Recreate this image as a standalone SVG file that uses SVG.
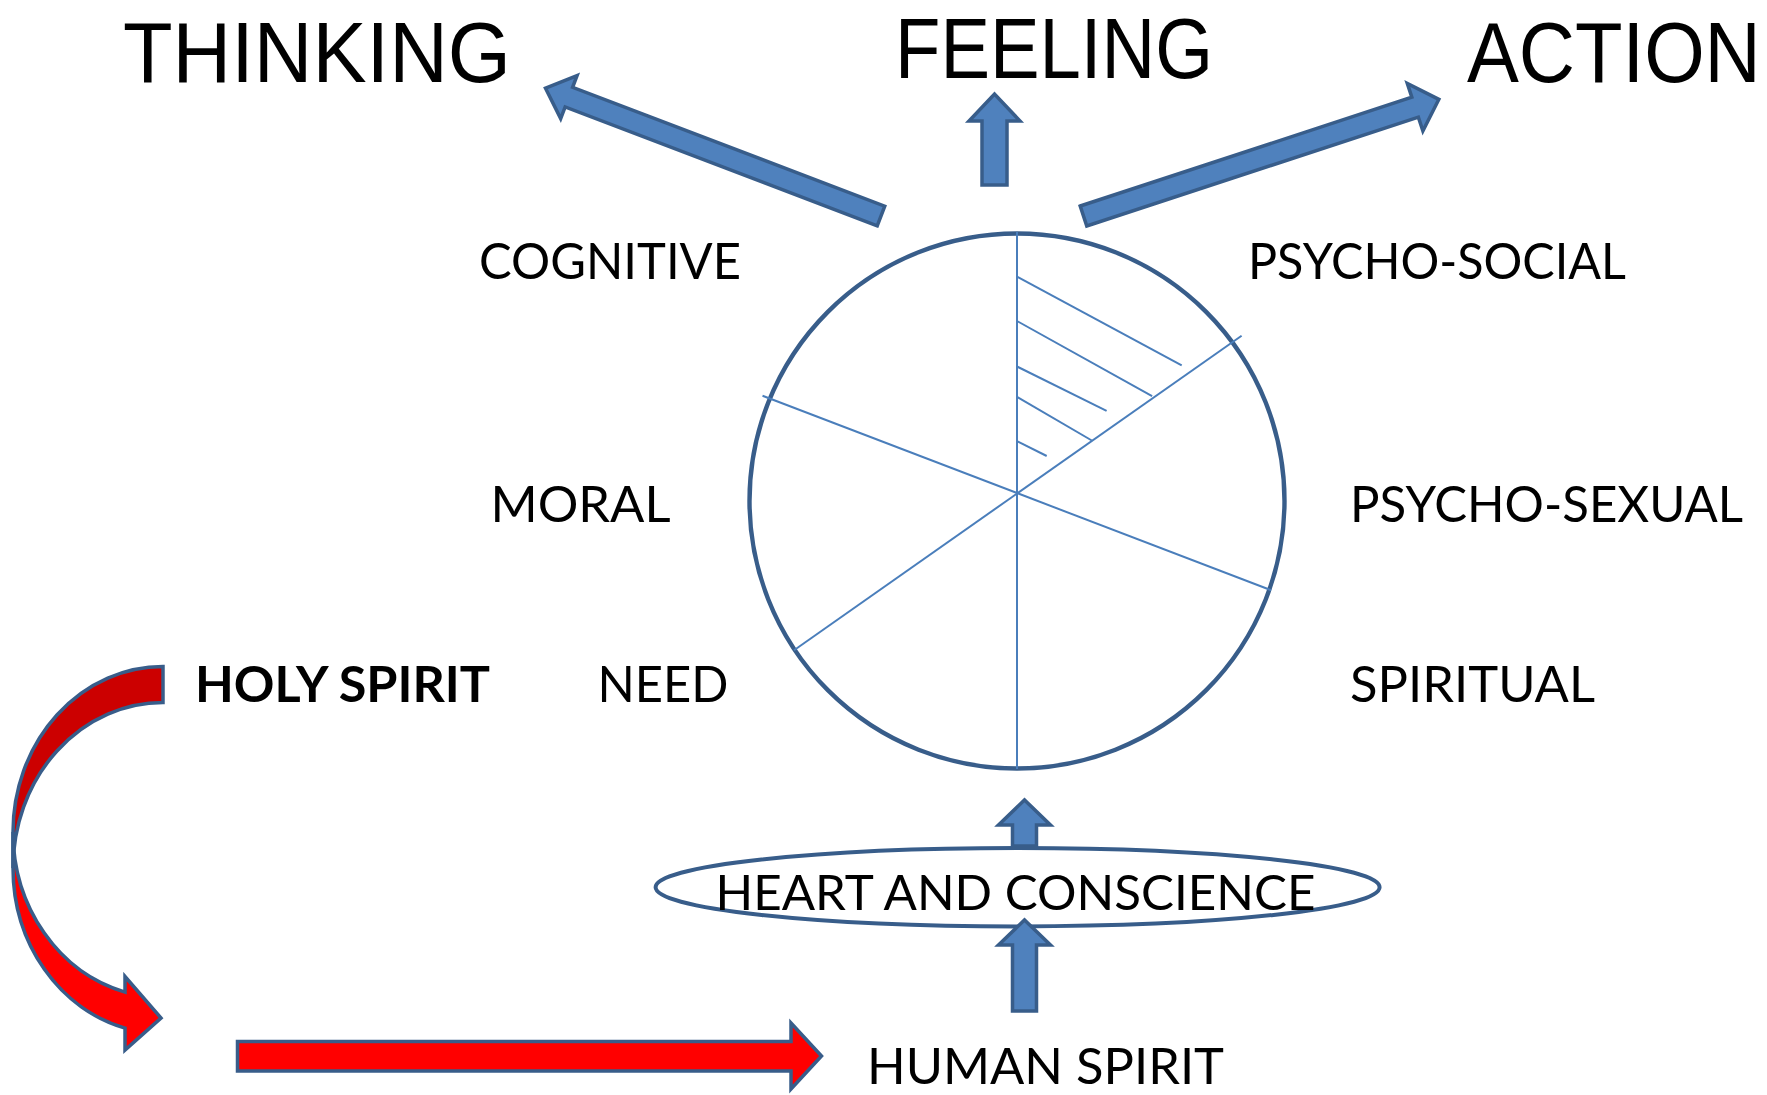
<svg xmlns="http://www.w3.org/2000/svg" width="1767" height="1095" viewBox="0 0 1767 1095">
<style>
text{font-family:"Lato","Liberation Sans",sans-serif;fill:#000}
.title{font-family:"Liberation Sans","Lato",sans-serif;font-size:85px}
.lbl{font-size:50px}
.bold{font-weight:bold}
.blue{fill:#4f81bd;stroke:#385d8a;stroke-width:3.5;stroke-linejoin:miter}
.red{fill:#ff0000;stroke:#385d8a;stroke-width:3.5;stroke-linejoin:miter}
.dark{fill:#cc0000;stroke:#385d8a;stroke-width:3.5;stroke-linejoin:miter}
.rim{fill:none;stroke:#385d8a;stroke-width:4.4}
.spoke{stroke:#4a7ebb;stroke-width:2;fill:none}
</style>
<rect width="1767" height="1095" fill="#fff"/>

<g id="wheel">
<circle class="rim" cx="1017" cy="501" r="267.5"/>
<line class="spoke" x1="1017" y1="232" x2="1017" y2="769"/>
<line class="spoke" x1="762.5" y1="395.7" x2="1271.2" y2="590.3"/>
<line class="spoke" x1="1241.6" y1="335.8" x2="794" y2="650.2"/>
<line class="spoke" x1="1017" y1="276.6" x2="1181.7" y2="365.4"/>
<line class="spoke" x1="1017" y1="321" x2="1152.1" y2="396.1"/>
<line class="spoke" x1="1017" y1="366.5" x2="1106.6" y2="410.9"/>
<line class="spoke" x1="1017" y1="396.8" x2="1091.8" y2="440.5"/>
<line class="spoke" x1="1017" y1="441.2" x2="1046.7" y2="456"/>
</g>

<g id="heart-ellipse">
<ellipse class="rim" style="stroke-width:4" cx="1017.6" cy="887.2" rx="362" ry="39.2"/>
</g>

<g id="connectors">
<polygon id="arrow-thinking" class="blue" transform="translate(881,216) rotate(200.85)" points="0,-10.5 334,-10.5 334,-23 359,0 334,23 334,10.5 0,10.5"/>
<polygon id="arrow-feeling" class="blue" points="982,185 982,121 969,121 994.5,94 1020,121 1007,121 1007,185"/>
<polygon id="arrow-action" class="blue" transform="translate(1083.5,216) rotate(-18.17)" points="0,-10.5 349,-10.5 349,-25 374,0 349,25 349,10.5 0,10.5"/>
<polygon id="arrow-heart-up" class="blue" points="1012.5,846 1012.5,825 998.5,825 1024.5,800 1050.5,825 1036.5,825 1036.5,846"/>
<polygon id="arrow-spirit-up" class="blue" points="1012.5,1011 1012.5,945 998.5,945 1024.5,920 1050.5,945 1036.5,945 1036.5,1011"/>
<path id="curve-back" class="dark" d="M163,666.5 A150,165.5 0 0 0 13,832 L13,868 A150,165.5 0 0 1 163,702.5 Z"/>
<path id="curve-front" class="red" d="M13,832 A150,165.5 0 0 0 125,992.1 L125,976.5 L161,1018 L125,1050 L125,1028.1 A150,165.5 0 0 1 13,868 Z"/>
<polygon id="arrow-red" class="red" points="237.5,1041.5 791,1041.5 791,1023 821.5,1056 791,1089 791,1071 237.5,1071"/>
</g>

<g id="title-thinking"><text class="title" x="123" y="81.7" textLength="388" lengthAdjust="spacingAndGlyphs">THINKING</text></g>
<g id="title-feeling"><text class="title" x="895" y="78.2" textLength="318" lengthAdjust="spacingAndGlyphs">FEELING</text></g>
<g id="title-action"><text class="title" transform="translate(1467,81.7) scale(0.915,1)" x="0" y="0">ACTION</text></g>

<g id="label-cognitive"><text class="lbl" x="479" y="278.5" textLength="262" lengthAdjust="spacingAndGlyphs">COGNITIVE</text></g>
<g id="label-psycho-social"><text class="lbl" x="1248" y="278.5" textLength="378" lengthAdjust="spacingAndGlyphs">PSYCHO-SOCIAL</text></g>
<g id="label-moral"><text class="lbl" x="490.5" y="521.7" textLength="180" lengthAdjust="spacingAndGlyphs">MORAL</text></g>
<g id="label-psycho-sexual"><text class="lbl" x="1350" y="521.7" textLength="393" lengthAdjust="spacingAndGlyphs">PSYCHO-SEXUAL</text></g>
<g id="label-holy-spirit"><text class="lbl bold" x="195" y="701.7" textLength="295" lengthAdjust="spacingAndGlyphs">HOLY SPIRIT</text></g>
<g id="label-need"><text class="lbl" x="597.5" y="701.7" textLength="131" lengthAdjust="spacingAndGlyphs">NEED</text></g>
<g id="label-spiritual"><text class="lbl" x="1350" y="701.7" textLength="245" lengthAdjust="spacingAndGlyphs">SPIRITUAL</text></g>
<g id="label-heart"><text class="lbl" style="font-size:49px" x="715.5" y="910" textLength="600" lengthAdjust="spacingAndGlyphs">HEART AND CONSCIENCE</text></g>
<g id="label-human-spirit"><text class="lbl" x="867" y="1084" textLength="357" lengthAdjust="spacingAndGlyphs">HUMAN SPIRIT</text></g>
</svg>
